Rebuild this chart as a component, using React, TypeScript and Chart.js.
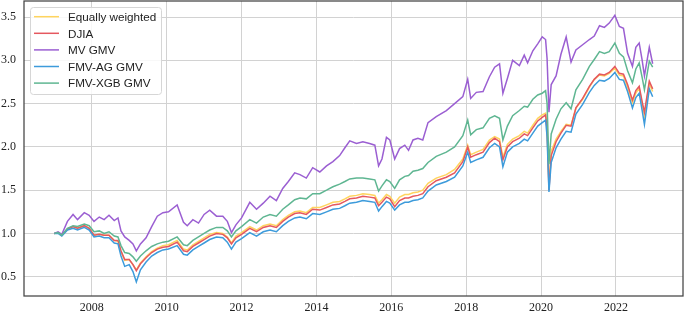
import React, { useEffect, useRef } from "react";
import { Chart, registerables } from "chart.js";

Chart.register(...registerables);

// Time axis in decimal years
const dates = [
  2007.0, 2007.1, 2007.2, 2007.35, 2007.5, 2007.62, 2007.8, 2007.93,
  2008.06, 2008.2, 2008.33, 2008.46, 2008.6, 2008.7, 2008.78, 2008.88,
  2009.0, 2009.1, 2009.19, 2009.3, 2009.45, 2009.6, 2009.75, 2009.9,
  2010.05, 2010.28, 2010.45, 2010.55, 2010.7, 2010.85,
  2011.0, 2011.15, 2011.33, 2011.5, 2011.62, 2011.73, 2011.85,
  2012.0, 2012.22, 2012.4, 2012.58, 2012.76, 2012.93,
  2013.1, 2013.25, 2013.42, 2013.56, 2013.73, 2013.9,
  2014.09, 2014.27, 2014.44, 2014.62, 2014.76, 2014.89,
  2015.07, 2015.24, 2015.42, 2015.56, 2015.66, 2015.75, 2015.87, 2015.96,
  2016.09, 2016.22, 2016.36, 2016.46, 2016.58, 2016.71, 2016.84, 2016.98,
  2017.2, 2017.47, 2017.69, 2017.91,
  2018.04, 2018.12, 2018.27, 2018.45, 2018.62, 2018.76, 2018.89, 2018.98,
  2019.1, 2019.24, 2019.42, 2019.55, 2019.64, 2019.78, 2019.91,
  2020.03, 2020.12, 2020.16, 2020.21, 2020.27, 2020.4, 2020.53, 2020.67, 2020.8, 2020.93,
  2021.11, 2021.29, 2021.42, 2021.56, 2021.69, 2021.82, 2021.97,
  2022.09, 2022.2, 2022.31, 2022.44, 2022.53, 2022.62, 2022.7, 2022.76, 2022.89, 2022.98,
];

const equallyWeighted = [
  1.0, 1.01, 0.98, 1.05, 1.08, 1.06, 1.09, 1.06,
  0.98, 0.99, 0.98, 0.98, 0.92, 0.91, 0.79, 0.69,
  0.7, 0.64, 0.58, 0.66, 0.73, 0.79, 0.83, 0.86,
  0.87, 0.92, 0.82, 0.81, 0.87, 0.91,
  0.95, 0.99, 1.01, 1.0, 0.96, 0.89, 0.97,
  1.01, 1.08, 1.04, 1.09, 1.11, 1.09,
  1.16, 1.21, 1.25, 1.26, 1.24, 1.3,
  1.3, 1.33, 1.36, 1.37, 1.4, 1.43,
  1.44, 1.46, 1.45, 1.44, 1.35, 1.39, 1.45, 1.43,
  1.35, 1.42, 1.45, 1.45, 1.47, 1.48, 1.5, 1.58,
  1.64, 1.68, 1.74, 1.86,
  2.02, 1.91, 1.94, 1.97, 2.08, 2.12, 2.09, 1.88,
  2.03, 2.09, 2.13, 2.18, 2.16, 2.25, 2.33,
  2.37, 2.39, 2.23, 1.56, 1.95, 2.09, 2.18, 2.26, 2.25, 2.45,
  2.55, 2.69, 2.78, 2.83, 2.82, 2.85, 2.91,
  2.83, 2.82, 2.69, 2.51, 2.62, 2.68, 2.49, 2.36, 2.73, 2.64,
];

const djia = [
  1.0, 1.01, 0.98, 1.05, 1.08, 1.06, 1.09, 1.06,
  0.98, 0.99, 0.98, 0.98, 0.92, 0.92, 0.8, 0.7,
  0.7, 0.64, 0.57, 0.65, 0.72, 0.78, 0.82, 0.84,
  0.85, 0.9, 0.8, 0.79, 0.85, 0.89,
  0.93, 0.97, 1.0, 0.99, 0.95, 0.88, 0.95,
  0.99, 1.06, 1.02, 1.07, 1.09, 1.07,
  1.14, 1.19, 1.23, 1.24, 1.22, 1.28,
  1.27, 1.3, 1.33, 1.34, 1.37, 1.4,
  1.41, 1.43, 1.42, 1.41, 1.32, 1.36, 1.42, 1.4,
  1.31, 1.38, 1.41, 1.41, 1.43, 1.44, 1.46, 1.54,
  1.61, 1.65, 1.7, 1.83,
  2.0, 1.88, 1.91, 1.94, 2.05, 2.1, 2.06, 1.85,
  2.0, 2.06, 2.1, 2.15, 2.13, 2.22, 2.3,
  2.34, 2.37, 2.2, 1.5, 1.9, 2.06, 2.16, 2.25, 2.24, 2.45,
  2.56, 2.7, 2.78, 2.84, 2.83, 2.86, 2.93,
  2.85, 2.84, 2.72, 2.54, 2.65, 2.7, 2.52, 2.4, 2.76, 2.67,
];

const mvGmv = [
  1.0, 1.02, 0.99, 1.14, 1.22, 1.16, 1.24, 1.21,
  1.14, 1.19, 1.16, 1.21, 1.15, 1.18, 1.03, 0.96,
  0.92, 0.88, 0.8, 0.88, 0.95, 1.08, 1.2, 1.24,
  1.25, 1.33, 1.13, 1.09, 1.16, 1.12,
  1.22, 1.27, 1.2, 1.2, 1.14, 1.01, 1.1,
  1.18, 1.36, 1.28, 1.35, 1.43, 1.38,
  1.52, 1.6, 1.7, 1.68, 1.64, 1.76,
  1.71, 1.78, 1.83, 1.9, 1.99, 2.07,
  2.04, 2.06, 2.04, 2.02, 1.78, 1.86, 2.11, 2.08,
  1.86, 1.98, 2.02, 1.96, 2.08, 2.1, 2.08, 2.28,
  2.35, 2.42, 2.5, 2.58,
  2.78, 2.56, 2.63, 2.64, 2.81, 2.92, 2.96, 2.62,
  2.79, 3.0, 2.94, 3.06, 2.97, 3.11, 3.19,
  3.27, 3.24, 3.02, 2.4, 2.72, 2.82, 3.07, 3.27, 2.98, 3.12,
  3.18, 3.24, 3.28, 3.4, 3.38, 3.43, 3.52,
  3.39, 3.37, 3.08, 2.93, 3.15, 3.2, 3.0, 2.82, 3.15, 2.96,
];

const fmvAgGmv = [
  1.0, 1.0, 0.97, 1.04, 1.06, 1.04, 1.07, 1.04,
  0.96, 0.97, 0.95, 0.95, 0.89, 0.88, 0.74, 0.62,
  0.64, 0.56, 0.44, 0.58, 0.67, 0.74, 0.78, 0.81,
  0.82, 0.86, 0.76, 0.75, 0.81, 0.85,
  0.89, 0.93, 0.96, 0.95, 0.9, 0.82, 0.9,
  0.94, 1.01, 0.97, 1.02, 1.04, 1.02,
  1.09, 1.14, 1.18, 1.19, 1.17, 1.23,
  1.22, 1.25, 1.28, 1.29, 1.32, 1.35,
  1.36, 1.38, 1.37, 1.36, 1.26, 1.31, 1.37, 1.35,
  1.27, 1.33, 1.36, 1.36, 1.38, 1.39, 1.41, 1.49,
  1.56, 1.6, 1.65, 1.78,
  1.94, 1.82, 1.85, 1.88, 1.99, 2.04, 2.0, 1.77,
  1.94, 2.0, 2.04, 2.09, 2.07, 2.16, 2.24,
  2.28, 2.31, 2.12, 1.48, 1.82, 1.99, 2.09, 2.18, 2.17, 2.38,
  2.49, 2.63, 2.71, 2.77, 2.76, 2.79, 2.86,
  2.78, 2.77, 2.64, 2.45, 2.57, 2.62, 2.42, 2.26, 2.67, 2.58,
];

const fmvXgbGmv = [
  1.0, 1.01, 0.98, 1.06, 1.09, 1.08, 1.11, 1.09,
  1.02, 1.03, 1.0, 1.02, 0.97, 0.96, 0.86, 0.78,
  0.77, 0.73, 0.68, 0.74, 0.8, 0.85, 0.88, 0.9,
  0.91, 0.96, 0.87, 0.86, 0.92, 0.96,
  1.0, 1.04, 1.07, 1.07, 1.03, 0.96, 1.03,
  1.08, 1.16, 1.12, 1.19, 1.22, 1.2,
  1.28, 1.33, 1.39, 1.41, 1.4, 1.46,
  1.46, 1.5, 1.54, 1.57, 1.6, 1.63,
  1.64, 1.64, 1.63, 1.62, 1.49, 1.55, 1.62, 1.6,
  1.52, 1.62, 1.66, 1.67, 1.72, 1.73, 1.75, 1.82,
  1.89, 1.94, 2.0, 2.13,
  2.31, 2.14, 2.2, 2.22, 2.33, 2.36, 2.33, 2.08,
  2.24, 2.36, 2.42, 2.47, 2.46, 2.55, 2.6,
  2.62, 2.65, 2.5, 1.8, 2.15, 2.32, 2.44, 2.51, 2.44, 2.66,
  2.78, 2.93, 3.01, 3.1, 3.08, 3.1, 3.2,
  3.08, 3.04, 2.88, 2.74, 2.9, 2.97, 2.8, 2.66, 2.99, 2.92,
];

const seriesNames = ["Equally weighted", "DJIA", "MV GMV", "FMV-AG GMV", "FMV-XGB GMV"];
const seriesColors = ["#FFD45E", "#E5585F", "#9B5FD2", "#3D9BDB", "#5FB692"];
const xTicks = [2008, 2010, 2012, 2014, 2016, 2018, 2020, 2022];
const yTicks = [0.5, 1.0, 1.5, 2.0, 2.5, 3.0, 3.5];
const xRange = [2006.19, 2023.79];
const yRange = [0.278, 3.685];

export default function App() {
  const canvasRef = useRef<HTMLCanvasElement>(null);

  useEffect(() => {
    const canvas = canvasRef.current;
    if (!canvas) return;
    const series = [equallyWeighted, djia, mvGmv, fmvAgGmv, fmvXgbGmv];
    const drawOrder = [4, 3, 2, 1, 0];
    const datasets = series.map((vals, i) => ({
      label: seriesNames[i],
      data: vals.map((v, j) => ({ x: dates[j], y: v })),
      borderColor: seriesColors[i],
      backgroundColor: seriesColors[i],
      borderWidth: 1.5,
      pointRadius: 0,
      pointHoverRadius: 0,
      tension: 0,
      fill: false,
      order: drawOrder[i],
    }));

    const framePlugin = {
      id: "frameAndLegend",
      afterDraw(chart: any) {
        const { ctx, chartArea: a } = chart;
        ctx.save();
        ctx.strokeStyle = "#444444";
        ctx.lineWidth = 1.25;
        ctx.strokeRect(a.left, a.top, a.right - a.left, a.bottom - a.top);

        // legend box
        const bx = 30.5, by = 7.5, bw = 131, bh = 87, r = 3;
        ctx.beginPath();
        ctx.moveTo(bx + r, by);
        ctx.lineTo(bx + bw - r, by);
        ctx.arcTo(bx + bw, by, bx + bw, by + r, r);
        ctx.lineTo(bx + bw, by + bh - r);
        ctx.arcTo(bx + bw, by + bh, bx + bw - r, by + bh, r);
        ctx.lineTo(bx + r, by + bh);
        ctx.arcTo(bx, by + bh, bx, by + bh - r, r);
        ctx.lineTo(bx, by + r);
        ctx.arcTo(bx, by, bx + r, by, r);
        ctx.closePath();
        ctx.fillStyle = "rgba(255,255,255,0.85)";
        ctx.fill();
        ctx.strokeStyle = "#d6d6d6";
        ctx.lineWidth = 1;
        ctx.stroke();

        ctx.font = "11.7px 'Liberation Sans', Arial, sans-serif";
        ctx.textBaseline = "alphabetic";
        ctx.textAlign = "left";
        seriesNames.forEach((name, i) => {
          const cy = 16.7 + i * 16.6;
          ctx.strokeStyle = seriesColors[i];
          ctx.lineWidth = 1.5;
          ctx.beginPath();
          ctx.moveTo(34, cy);
          ctx.lineTo(59, cy);
          ctx.stroke();
          ctx.fillStyle = "#222222";
          ctx.fillText(name, 68, cy + 4.2);
        });
        ctx.restore();
      },
    };

    const chart = new Chart(canvas, {
      type: "line",
      data: { datasets },
      options: {
        animation: false,
        responsive: false,
        maintainAspectRatio: false,
        parsing: false as any,
        normalized: true,
        layout: { padding: { top: 1, right: 2, left: 0, bottom: 0 } },
        plugins: {
          legend: { display: false },
          tooltip: { enabled: false },
        },
        scales: {
          x: {
            type: "linear",
            min: xRange[0],
            max: xRange[1],
            afterBuildTicks: (s: any) => {
              s.ticks = xTicks.map((v) => ({ value: v }));
            },
            afterFit: (s: any) => {
              s.height = 18;
              s.paddingLeft = 0;
              s.paddingRight = 0;
            },
            border: { display: false },
            grid: { color: "#d2d2d2", lineWidth: 1, drawTicks: false },
            ticks: {
              padding: 5,
              color: "#222222",
              font: { family: "'Liberation Serif', 'Times New Roman', serif", size: 12 },
              maxRotation: 0,
              autoSkip: false,
              callback: (v: any) => String(v),
            },
          },
          y: {
            type: "linear",
            min: yRange[0],
            max: yRange[1],
            afterBuildTicks: (s: any) => {
              s.ticks = yTicks.map((v) => ({ value: v }));
            },
            afterFit: (s: any) => {
              s.width = 24;
              s.paddingTop = 0;
              s.paddingBottom = 0;
            },
            border: { display: false },
            grid: { color: "#d2d2d2", lineWidth: 1, drawTicks: false },
            ticks: {
              padding: 8,
              color: "#222222",
              font: { family: "'Liberation Serif', 'Times New Roman', serif", size: 12 },
              autoSkip: false,
              callback: (v: any) => Number(v).toFixed(1),
            },
          },
        },
      },
      plugins: [framePlugin],
    });

    return () => {
      chart.destroy();
    };
  }, []);

  return (
    <div style={{ position: "fixed", left: 0, top: 0, width: 685, height: 314, background: "#ffffff" }}>
      <canvas ref={canvasRef} width={685} height={314} style={{ display: "block" }} />
    </div>
  );
}
